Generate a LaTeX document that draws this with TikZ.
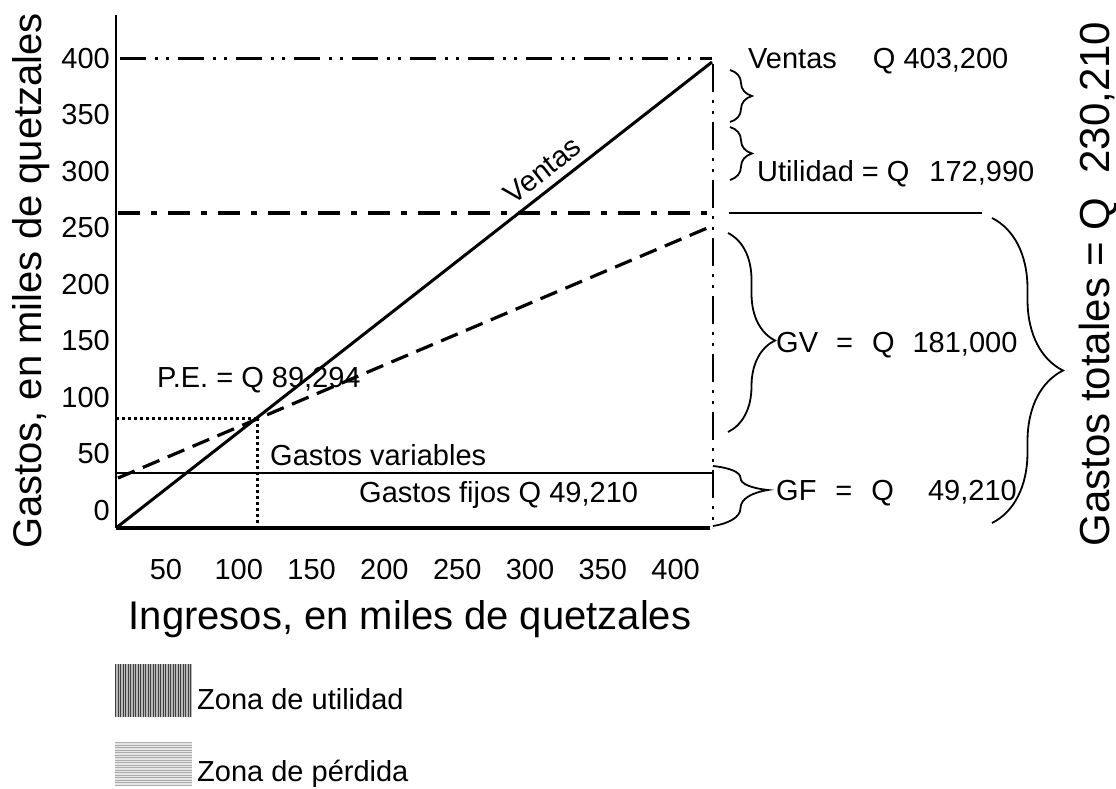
\documentclass[tikz,border=0pt]{standalone}
\usepackage{fontspec}
\setmainfont{Liberation Sans}
\usetikzlibrary{decorations.pathreplacing}
\newcommand\setfs[1]{\fontsize{#1}{#1}\selectfont}
\begin{document}
\begin{tikzpicture}[x=1pt,y=-1pt,
  med/.style={font=\setfs{29}, inner sep=0pt, text height=20.8pt, text depth=0pt},
  big/.style={font=\setfs{40}, inner sep=0pt, text height=28.6pt, text depth=0pt},
  brc/.style={decorate, line width=1.8pt, decoration={brace, amplitude=#1}},
  axisY/.style={line width=2.5pt},
  axisX/.style={line width=4pt},
  salesline/.style={line width=3pt},
  costline/.style={line width=3.2pt, dash pattern=on 18pt off 9pt},
  fixline/.style={line width=2pt},
  dotline/.style={line width=3pt, dash pattern=on 3pt off 3pt},
  topline/.style={line width=3pt, dash pattern=on 26pt off 9pt on 3pt off 8pt on 3pt off 9pt},
  heavyline/.style={line width=4.5pt, dash pattern=on 22pt off 11pt on 6pt off 11pt},
  vline/.style={line width=2.5pt, dash pattern=on 28pt off 8pt on 3pt off 8pt on 3pt off 8pt},
  plainline/.style={line width=2pt}]
\useasboundingbox (0,0) rectangle (1116,788);
% key coordinates
\coordinate (O) at (116,528);
\coordinate (Ytop) at (116,15);
\coordinate (Xend) at (710,528);
\coordinate (T) at (712,62);
\coordinate (B) at (257,418);
\coordinate (By) at (116,418);
\coordinate (Bx) at (257,528);
\coordinate (D0) at (118,478);
\coordinate (D1) at (712,226);
\coordinate (L4a) at (120,58);
\coordinate (L4b) at (712,58);
\coordinate (Ha) at (118,213);
\coordinate (Hb) at (713,213);
\coordinate (Va) at (713,64);
\coordinate (Vb) at (713,528);
\coordinate (Fa) at (116,473);
\coordinate (Fb) at (712,473);
\coordinate (Hr1) at (729,213);
\coordinate (Hr2) at (982,213);
% reference lines
\draw[topline] (L4a) -- (L4b);
\draw[heavyline] (Ha) -- (Hb);
\draw[vline] (Va) -- (Vb);
\draw[plainline] (Hr1) -- (Hr2);
\draw[fixline] (Fa) -- (Fb);
\draw[dotline] (By) -- (B);
\draw[dotline] (B) -- (Bx);
% curves
\draw[costline] (D0) -- (D1);
\draw[salesline] (O) -- (T);
% axes
\draw[axisY] (Ytop) -- (O);
\draw[axisX] (O) -- (Xend);
% label along sales line
\path (O) -- (T) node[med, sloped, above=9pt, pos=0.735] (ventasL) {Ventas};
% y ticks
\foreach \v in {0,50,...,400} {
  \pgfmathsetmacro\yy{510-1.13*\v}
  \node[med, anchor=east] (yt\v) at (110,\yy) {\v};
}
% x ticks
\foreach \v in {50,100,...,400} {
  \pgfmathsetmacro\xx{166+1.456*(\v-50)}
  \node[med] (xt\v) at (\xx,569) {\v};
}
% titles
\node[big, rotate=90] (ytitle) at (27,281) {Gastos, en miles de quetzales};
\node[big] (xtitle) at (410,615) {Ingresos, en miles de quetzales};
\node[font=\setfs{42}, inner sep=0pt, text height=30pt, text depth=0pt, rotate=90] (gt) at (1094,284) {Gastos totales = Q\hspace{24pt}230,210};
% texts in chart
\node[med, anchor=west] (pe) at (157,377) {P.E. = Q 89,294};
\node[med, anchor=west] (gvar) at (270,455) {Gastos variables};
\node[med, anchor=west] (gfij) at (359,492) {Gastos fijos Q 49,210};
% right side texts
\node[med, anchor=west] (vq) at (748,58) {Ventas\hspace{36pt}Q 403,200};
\node[med, anchor=west] (ut) at (757,171) {Utilidad = Q\hspace{20pt}172,990};
\node[med, anchor=west] (gv) at (776,342) {GV\hspace{18pt}=\hspace{19pt}Q\hspace{18pt}181,000};
\node[med, anchor=west] (gf) at (776,490) {GF\hspace{19pt}=\hspace{19pt}Q\hspace{18pt}\phantom{0}49,210};
% braces
\draw[brc=22, decoration={aspect=0.5}] (730,70) -- (730,122);
\draw[brc=22, decoration={aspect=0.5}] (730,127) -- (730,180);
\draw[brc=47, decoration={aspect=0.54}] (728,233) -- (728,432);
\draw[brc=55, decoration={aspect=0.4}] (713,466) -- (713,526);
\draw[brc=71, decoration={aspect=0.5}] (992,218) -- (992,523);
% legend
\fill[gray!55] (115,664) rectangle (192,717);
\foreach \i in {0,...,30} {
  \draw[black!75, line width=0.9pt] ({115.5+2.5*\i},664) -- ({115.5+2.5*\i},717);
}
\fill[gray!20] (115,742) rectangle (192,786);
\foreach \i in {0,...,17} {
  \draw[gray!65, line width=0.9pt] (115,{742.5+2.5*\i}) -- (192,{742.5+2.5*\i});
}
\node[med, anchor=west] (zu) at (197,699) {Zona de utilidad};
\node[med, anchor=west] (zp) at (197,771) {Zona de pérdida};
\end{tikzpicture}
\end{document}
